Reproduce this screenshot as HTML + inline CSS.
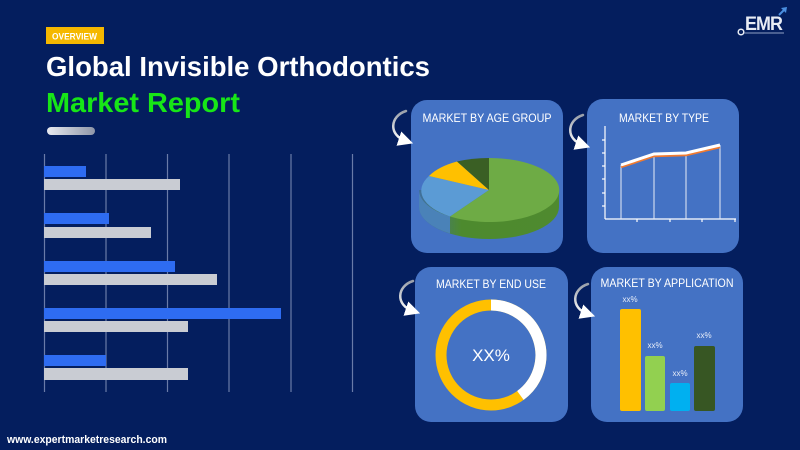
<!DOCTYPE html>
<html><head><meta charset="utf-8"><style>
html,body{margin:0;padding:0;}
body{width:800px;height:450px;overflow:hidden;background:#041e5e;font-family:"Liberation Sans",sans-serif;}
svg{display:block;}
</style></head><body>
<svg width="800" height="450" viewBox="0 0 800 450" xmlns="http://www.w3.org/2000/svg">
<defs>
<linearGradient id="pill" x1="0" x2="1" y1="0" y2="0"><stop offset="0" stop-color="#e8eaf0"/><stop offset="1" stop-color="#8f96a8"/></linearGradient>
<linearGradient id="arr" x1="0" x2="0" y1="0" y2="1"><stop offset="0" stop-color="#9aa0aa"/><stop offset="1" stop-color="#ffffff"/></linearGradient>
<linearGradient id="pieside" x1="0" x2="1" y1="0" y2="0"><stop offset="0" stop-color="#3f6f9e"/><stop offset="0.3" stop-color="#4d8a2e"/><stop offset="1" stop-color="#4f8a2f"/></linearGradient>
<marker id="ah" markerWidth="6" markerHeight="6" refX="3" refY="3" orient="auto"><path d="M0,0 L6,3 L0,6 z" fill="#fff"/></marker>
</defs>
<rect width="800" height="450" fill="#041e5e"/>

<!-- header -->
<rect x="46" y="27" width="58" height="17" fill="#f5b800"/>
<text x="52" y="39.5" font-size="9" font-weight="bold" fill="#fff" textLength="45" lengthAdjust="spacingAndGlyphs">OVERVIEW</text>
<text x="46" y="76" font-size="28" font-weight="bold" fill="#ffffff" textLength="384" lengthAdjust="spacingAndGlyphs">Global Invisible Orthodontics</text>
<text x="46" y="112" font-size="28" font-weight="bold" fill="#17e617" textLength="194" lengthAdjust="spacingAndGlyphs">Market Report</text>
<rect x="47" y="127" width="48" height="8" rx="4" fill="url(#pill)"/>

<!-- bar chart grid -->
<g stroke="#6a7ba8" stroke-width="1.2">
<line x1="44.5" y1="154" x2="44.5" y2="392"/>
<line x1="106" y1="154" x2="106" y2="392"/>
<line x1="167.5" y1="154" x2="167.5" y2="392"/>
<line x1="229" y1="154" x2="229" y2="392"/>
<line x1="291" y1="154" x2="291" y2="392"/>
<line x1="352.5" y1="154" x2="352.5" y2="392"/>
</g>
<g fill="#2e6cf2">
<rect x="44" y="166" width="42" height="11"/>
<rect x="44" y="213" width="65" height="11"/>
<rect x="44" y="261" width="131" height="11"/>
<rect x="44" y="308" width="237" height="11"/>
<rect x="44" y="355" width="62" height="11"/>
</g>
<g fill="#c9ccd3">
<rect x="44" y="179" width="136" height="11"/>
<rect x="44" y="227" width="107" height="11"/>
<rect x="44" y="274" width="173" height="11"/>
<rect x="44" y="321" width="144" height="11"/>
<rect x="44" y="368" width="144" height="12"/>
</g>
<text x="7" y="443" font-size="11" font-weight="bold" fill="#fff" textLength="160" lengthAdjust="spacingAndGlyphs">www.expertmarketresearch.com</text>

<!-- EMR logo -->
<text x="745" y="30" font-size="19" font-weight="bold" fill="#e8ecf4" letter-spacing="-1" textLength="37" lengthAdjust="spacingAndGlyphs">EMR</text>
<circle cx="741" cy="32" r="2.8" fill="none" stroke="#e8ecf4" stroke-width="1.5"/>
<line x1="744" y1="33" x2="784" y2="33" stroke="#8fa0c4" stroke-width="1"/>
<line x1="779" y1="15" x2="785" y2="9" stroke="#4a8fe0" stroke-width="2"/>
<path d="M781,8 L787,7 L786,13 z" fill="#4a8fe0"/>

<!-- panels -->
<rect x="411" y="100" width="152" height="153" rx="16" fill="#4472c4"/>
<rect x="587" y="99" width="152" height="154" rx="16" fill="#4472c4"/>
<rect x="415" y="267" width="153" height="155" rx="16" fill="#4472c4"/>
<rect x="591" y="267" width="152" height="155" rx="16" fill="#4472c4"/>

<!-- arrows -->
<g fill="none" stroke="url(#arr)" stroke-width="2.5" stroke-linecap="round">
<path d="M406,111 C390,116 388,135 406,141" marker-end="url(#ah)"/>
<path d="M583,115 C567,120 565,139 583,145" marker-end="url(#ah)"/>
<path d="M413,281 C397,286 395,305 413,311" marker-end="url(#ah)"/>
<path d="M588,284 C572,289 570,308 588,314" marker-end="url(#ah)"/>
</g>

<g font-size="12" fill="#fff" text-anchor="middle">
<text x="487" y="122" textLength="129" lengthAdjust="spacingAndGlyphs">MARKET BY AGE GROUP</text>
<text x="664" y="122" textLength="90" lengthAdjust="spacingAndGlyphs">MARKET BY TYPE</text>
<text x="491" y="288" textLength="110" lengthAdjust="spacingAndGlyphs">MARKET BY END USE</text>
<text x="667" y="287" textLength="133" lengthAdjust="spacingAndGlyphs">MARKET BY APPLICATION</text>
</g>

<!-- 3D pie: center 489,190 rx70 ry32 depth 17 -->
<path d="M419,190 L419,207 A70,32 0 0 0 559,207 L559,190 z" fill="url(#pieside)"/>
<path d="M419,190 L419,207 A70,32 0 0 0 450,233.5 L450,216.5 A70,32 0 0 1 419,190 z" fill="#4a82b8"/>
<path d="M489,190 L489,158 A70,32 0 1 1 450,216.5 z" fill="#6eab45"/>
<path d="M489,190 L450,216.5 A70,32 0 0 1 429,176 z" fill="#5b9bd5"/>
<path d="M489,190 L429,176 A70,32 0 0 1 457,161.5 z" fill="#ffc000"/>
<path d="M489,190 L457,161.5 A70,32 0 0 1 489,158 z" fill="#3a5f24"/>

<!-- line chart -->
<g stroke="#fff" stroke-width="1.2" fill="none">
<line x1="605" y1="126" x2="605" y2="219"/>
<line x1="605" y1="219" x2="736" y2="219"/>
<line x1="602" y1="140" x2="605" y2="140"/>
<line x1="602" y1="153" x2="605" y2="153"/>
<line x1="602" y1="166" x2="605" y2="166"/>
<line x1="602" y1="179" x2="605" y2="179"/>
<line x1="602" y1="193" x2="605" y2="193"/>
<line x1="602" y1="206" x2="605" y2="206"/>
<line x1="637" y1="219" x2="637" y2="222"/>
<line x1="670" y1="219" x2="670" y2="222"/>
<line x1="702" y1="219" x2="702" y2="222"/>
<line x1="735" y1="219" x2="735" y2="222"/>
</g>
<g stroke="#e8ecf6" stroke-width="1">
<line x1="621" y1="165" x2="621" y2="219"/>
<line x1="654" y1="154" x2="654" y2="219"/>
<line x1="686" y1="153" x2="686" y2="219"/>
<line x1="720" y1="145" x2="720" y2="219"/>
</g>
<polyline points="621,167 654,156 686,155 720,147" fill="none" stroke="#f07a30" stroke-width="2.5"/>
<polyline points="621,165 654,154 686,153 720,145" fill="none" stroke="#fff" stroke-width="3"/>

<!-- donut -->
<circle cx="491" cy="355" r="50" fill="none" stroke="#ffc000" stroke-width="11"/>
<path d="M491,305 A50,50 0 0 1 520.4,395.4" fill="none" stroke="#ffffff" stroke-width="11"/>
<text x="491" y="361" font-size="17" fill="#fff" text-anchor="middle">XX%</text>

<!-- application bars -->
<rect x="620" y="309" width="21" height="102" rx="2" fill="#ffc000"/>
<rect x="645" y="356" width="20" height="55" rx="2" fill="#92d050"/>
<rect x="670" y="383" width="20" height="28" rx="2" fill="#00b0f0"/>
<rect x="694" y="346" width="21" height="65" rx="2" fill="#375623"/>
<g font-size="8" fill="#e6ecf8" text-anchor="middle">
<text x="630" y="302">xx%</text>
<text x="655" y="348">xx%</text>
<text x="680" y="376">xx%</text>
<text x="704" y="338">xx%</text>
</g>
</svg>
</body></html>
